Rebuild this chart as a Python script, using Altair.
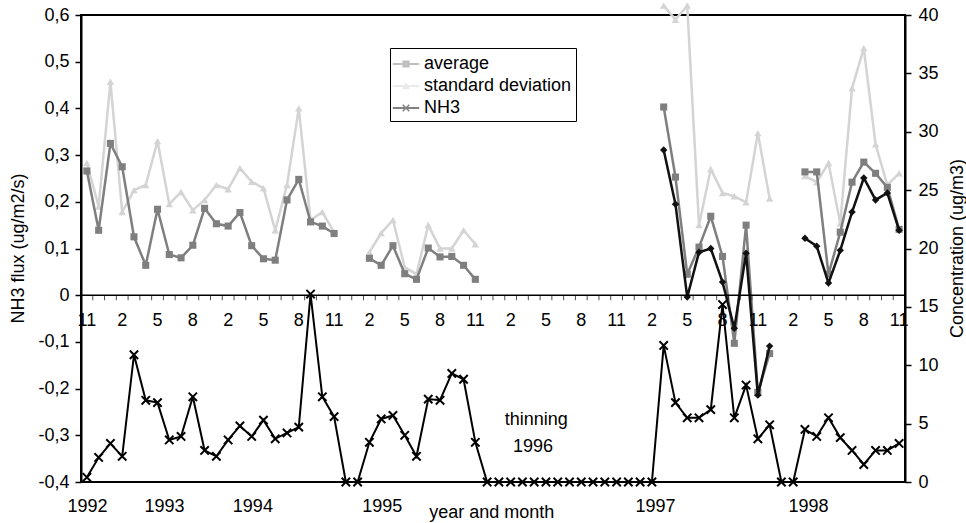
import altair as alt
import pandas as pd

n_cat = 70
month_labels = ["11", "2", "5", "8", "2", "5", "8", "11", "2", "5", "8", "11",
                "2", "5", "8", "11", "2", "5", "8", "11", "2", "5", "8", "11"]

nh3_conc = [0.4, 2.1, 3.3, 2.2, 10.9, 7.0, 6.8, 3.6, 3.9, 7.3,
            2.7, 2.2, 3.6, 4.8, 3.9, 5.3, 3.7, 4.2, 4.7, 16.1,
            7.3, 5.6, 0, 0, 3.4, 5.4, 5.7, 4.0, 2.2, 7.1,
            7.0, 9.3, 8.8, 3.4, 0, 0, 0, 0, 0, 0,
            0, 0, 0, 0, 0, 0, 0, 0, 0, 11.7,
            6.8, 5.5, 5.5, 6.2, 15.2, 5.5, 8.3, 3.7, 4.9, 0,
            0, 4.5, 3.9, 5.5, 3.8, 2.7, 1.5, 2.7, 2.7, 3.3]

avg_flux = ([0.266, 0.139, 0.325, 0.275, 0.125, 0.064, 0.184, 0.087, 0.080, 0.107,
             0.186, 0.153, 0.148, 0.177, 0.106, 0.078, 0.075, 0.204, 0.248, 0.157,
             0.148, 0.132, None, None, 0.079, 0.064, 0.106, 0.046, 0.034, 0.101,
             0.082, 0.083, 0.064, 0.034] + [None] * 15 +
            [0.403, 0.253, 0.045, 0.103, 0.169, 0.083, -0.103, 0.150, -0.208, -0.125,
             None, None,
             0.264, 0.264, 0.045, 0.135, 0.242, 0.285, 0.261, 0.231, 0.141])

std_flux = ([0.283, 0.19, 0.457, 0.178, 0.225, 0.236, 0.330, 0.195, 0.221, 0.182,
             0.204, 0.236, 0.227, 0.272, 0.243, 0.229, 0.139, 0.236, 0.400, 0.161,
             0.178, 0.135, None, None, 0.092, 0.133, 0.161, 0.060, 0.045, 0.150,
             0.100, 0.100, 0.139, 0.109] + [None] * 15 +
            [0.62, 0.59, 0.62, 0.150, 0.270, 0.219, 0.212, 0.199, 0.347, 0.207,
             None, None,
             0.255, 0.242, 0.283, 0.154, 0.443, 0.529, 0.323, 0.236, 0.261])

nh3_flux = ([None] * 49 +
            [0.311, 0.195, -0.004, 0.092, 0.100, 0.028, -0.071, 0.090, -0.214, -0.109,
             None, None,
             0.122, 0.105, 0.026, 0.096, 0.178, 0.251, 0.204, 0.219, 0.139])

year_labels = ["1992", "1993", "1994", "1995", "1997", "1998"]
year_at = [0.55, 7.1, 14.6, 25.6, 48.8, 61.8]

legend_names = ["average", "standard deviation", "NH3"]
legend_colors = ["#7f7f7f", "#d4d4d4", "#000000"]
legend_paths = [
    "M-1.1,-0.08H1.1V0.08H-1.1Z M-0.3,-0.3H0.3V0.3H-0.3Z",
    "M-1.1,-0.08H1.1V0.08H-1.1Z M0,-0.34L0.34,0.27H-0.34Z",
    "M-1.1,-0.08H1.1V0.08H-1.1Z M-0.32,-0.23L-0.23,-0.32L0,-0.09L0.23,-0.32L0.32,-0.23"
    "L0.09,0L0.32,0.23L0.23,0.32L0,0.09L-0.23,0.32L-0.32,0.23L-0.09,0Z",
]

FONT = "Liberation Sans"


def series_df(vals):
    rows = []
    seg = 0
    gap = True
    for i, v in enumerate(vals):
        if v is None:
            gap = True
            continue
        if gap:
            seg += 1
            gap = False
        rows.append({"x": i + 0.5, "v": v, "seg": seg})
    return pd.DataFrame(rows)


x_enc = alt.X("x:Q", scale=alt.Scale(domain=[0, n_cat], nice=False, zero=False), axis=None)

flux_ticks = [round(k / 10, 1) for k in range(-4, 7)]
left_axis = alt.Axis(
    orient="left", values=flux_ticks, grid=False,
    labelExpr="abs(datum.value) < 1e-9 ? '0' : (datum.value < 0 ? '-' : '') + "
              "replace(format(abs(datum.value), '.1f'), '.', ',')",
    title="NH3 flux (ug/m2/s)", titleX=-63, titleY=233, titleBaseline="middle",
    titleAngle=270, tickSize=6, labelPadding=6,
    labelFont=FONT, titleFont=FONT, labelFontSize=18, titleFontSize=18,
    titleFontWeight="normal", labelColor="black", titleColor="black",
    domainColor="black", domainWidth=2, tickColor="black", tickWidth=1.5,
)
y_left = alt.Y("v:Q", scale=alt.Scale(domain=[-0.4, 0.6], nice=False, zero=False), axis=left_axis)

conc_ticks = list(range(0, 41, 5))
right_axis = alt.Axis(
    orient="right", values=conc_ticks, grid=False,
    title="Concentration (ug/m3)", titleX=52, titleY=233, titleBaseline="middle",
    titleAngle=270, tickSize=6, labelPadding=7,
    labelFont=FONT, titleFont=FONT, labelFontSize=18, titleFontSize=18,
    titleFontWeight="normal", labelColor="black", titleColor="black",
    domainColor="black", domainWidth=2, tickColor="black", tickWidth=1.5,
)
y_right = alt.Y("c:Q", scale=alt.Scale(domain=[0, 40], nice=False, zero=False), axis=right_axis)

avg_df = series_df(avg_flux)
std_df = series_df(std_flux)
dia_df = series_df(nh3_flux)

std_line = alt.Chart(std_df).mark_line(color="#d4d4d4", strokeWidth=2.5).encode(
    x=x_enc, y=y_left, detail="seg:N")
std_pts = alt.Chart(std_df).mark_point(shape="triangle-up", filled=True, color="#d4d4d4",
                                       size=55, opacity=1).encode(x=x_enc, y=y_left)
avg_line = alt.Chart(avg_df).mark_line(color="#7f7f7f", strokeWidth=2.5).encode(
    x=x_enc, y=y_left, detail="seg:N")
avg_pts = alt.Chart(avg_df).mark_point(shape="square", filled=True, color="#7f7f7f",
                                       size=50, opacity=1).encode(x=x_enc, y=y_left)
dia_line = alt.Chart(dia_df).mark_line(color="#111111", strokeWidth=2.5).encode(
    x=x_enc, y=y_left, detail="seg:N")
dia_pts = alt.Chart(dia_df).mark_point(shape="diamond", filled=True, color="#111111",
                                       size=55, opacity=1).encode(x=x_enc, y=y_left)

zero_rule = alt.Chart(pd.DataFrame({"v": [0]})).mark_rule(color="black", strokeWidth=1.5).encode(
    y=y_left)

tick_df = pd.DataFrame({"x": list(range(n_cat + 1)), "v": [0] * (n_cat + 1)})
month_ticks = alt.Chart(tick_df).mark_tick(orient="vertical", size=5, thickness=1,
                                           color="black", yOffset=2.5).encode(x=x_enc, y=y_left)

month_df = pd.DataFrame({"x": [3 * k + 0.5 for k in range(len(month_labels))],
                         "v": [0] * len(month_labels), "label": month_labels})
month_text = alt.Chart(month_df).mark_text(dy=26, fontSize=18, font=FONT, baseline="middle",
                                           color="black").encode(x=x_enc, y=y_left, text="label:N")

legend_df = pd.DataFrame({"x": [None] * 3, "v": [None] * 3, "series": legend_names})
leg = alt.Legend(title=None, orient="none", legendX=309, legendY=33, strokeColor="black",
                 fillColor="white", padding=4, labelFontSize=18, labelFont=FONT,
                 labelColor="black", symbolSize=576, symbolStrokeWidth=0, labelOffset=6,
                 rowPadding=1)
legend_layer = alt.Chart(legend_df).mark_point(filled=True, strokeWidth=0, size=576).encode(
    x=x_enc, y=y_left,
    fill=alt.Fill("series:N", scale=alt.Scale(domain=legend_names, range=legend_colors), legend=leg),
    shape=alt.Shape("series:N", scale=alt.Scale(domain=legend_names, range=legend_paths), legend=leg),
)

left = alt.layer(std_line, std_pts, avg_line, avg_pts, dia_line, dia_pts,
                 zero_rule, month_ticks, month_text, legend_layer)

nh3_df = pd.DataFrame({"x": [i + 0.5 for i in range(n_cat)], "c": nh3_conc})
nh3_line = alt.Chart(nh3_df).mark_line(color="black", strokeWidth=2).encode(x=x_enc, y=y_right)
nh3_pts = alt.Chart(nh3_df).mark_point(shape="M-1,-1L1,1M-1,1L1,-1", filled=False, color="black",
                                       strokeWidth=2, size=70, opacity=1).encode(x=x_enc, y=y_right)

year_df = pd.DataFrame({"x": year_at, "c": [-2.15] * len(year_at), "label": year_labels})
year_text = alt.Chart(year_df).mark_text(fontSize=18, font=FONT, baseline="middle",
                                         color="black").encode(x=x_enc, y=y_right, text="label:N")

note_df = pd.DataFrame({"x": [36.0, 36.7, 34.9], "c": [5.3, 3.0, -2.65],
                        "label": ["thinning", "1996", "year and month"]})
note_text = alt.Chart(note_df.iloc[:2]).mark_text(fontSize=18, font=FONT, baseline="middle",
                                                  align="left", color="black").encode(
    x=x_enc, y=y_right, text="label:N")
xtitle_text = alt.Chart(note_df.iloc[2:]).mark_text(fontSize=18, font=FONT, baseline="middle",
                                                    align="center", color="black").encode(
    x=x_enc, y=y_right, text="label:N")

right = alt.layer(nh3_line, nh3_pts, year_text, note_text, xtitle_text)

chart = alt.layer(left, right).resolve_scale(y="independent").properties(
    width=824, height=467,
    background="white",
    autosize=alt.AutoSizeParams(type="none"),
    padding={"left": 81, "top": 15, "right": 61, "bottom": 41},
).configure_view(stroke="black", strokeWidth=2)

chart.save("out.html", embed_options={"renderer": "svg", "actions": False})
